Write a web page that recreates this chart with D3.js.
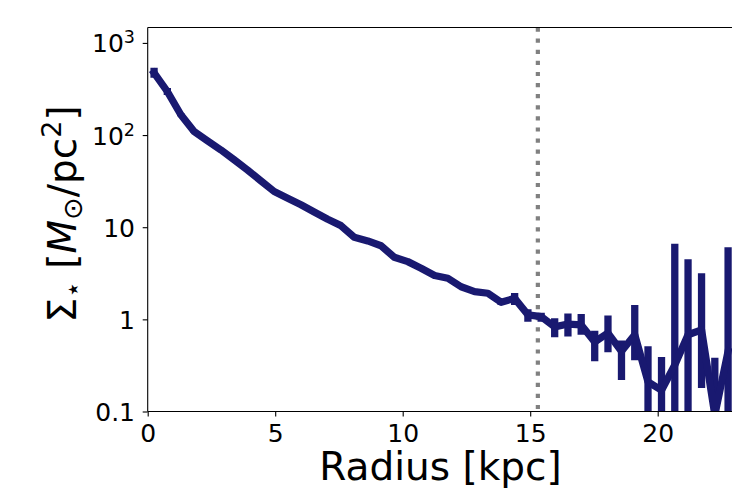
<!DOCTYPE html>
<html><head><meta charset="utf-8">
<script src="https://cdn.jsdelivr.net/npm/d3@7"></script>
<style>
body{margin:0;background:#fff}
svg{display:block}
text{font-family:"DejaVu Sans",sans-serif;fill:#000}
</style>
</head><body>
<svg id="c" width="732" height="491"></svg>
<script>
// ---- data ----
const radius = [0.25, 0.77, 1.30, 1.82, 2.34, 2.87, 3.39, 3.92, 4.44, 4.96,
                5.49, 6.01, 6.53, 7.06, 7.58, 8.10, 8.63, 9.15, 9.67, 10.20,
                10.72, 11.25, 11.77, 12.29, 12.82, 13.34, 13.86, 14.39, 14.91, 15.43,
                15.96, 16.48, 17.00, 17.53, 18.05, 18.58, 19.10, 19.62, 20.15, 20.67,
                21.19, 21.72, 22.24, 22.76];
const sigma = [473, 297, 166, 109, 86.5, 69, 53.9, 41.7, 31.8, 24.4,
               20.6, 17.5, 14.6, 12.2, 10.4, 7.79, 7.1, 6.3, 4.72, 4.23,
               3.59, 2.99, 2.79, 2.26, 2.0, 1.92, 1.53, 1.69, 1.12, 1.07,
               0.83, 0.89, 0.87, 0.57, 0.71, 0.45, 0.68, 0.21, 0.17, 0.32,
               0.68, 0.77, 0.092, 0.45];
const errLow = [55, 25, 6, 3, 2.5, 2, 1.6, 1.2, 0.9, 0.7,
                0.6, 0.5, 0.4, 0.35, 0.3, 0.23, 0.2, 0.18, 0.14, 0.12,
                0.1, 0.09, 0.08, 0.07, 0.06, 0.06, 0.1, 0.26, 0.18, 0.13,
                0.19, 0.24, 0.19, 0.22, 0.27, 0.23, 0.32, 0.21, 0.17, 0.32,
                0.68, 0.59, 0.092, 0.45];
const errHigh = [64, 28, 6, 3, 2.5, 2, 1.6, 1.2, 0.9, 0.7,
                 0.6, 0.5, 0.4, 0.35, 0.3, 0.23, 0.2, 0.18, 0.14, 0.12,
                 0.1, 0.09, 0.08, 0.07, 0.06, 0.06, 0.1, 0.24, 0.17, 0.11,
                 0.20, 0.27, 0.27, 0.18, 0.39, 0.14, 0.75, 0.30, 0.22, 6.3,
                 3.8, 2.4, 0.29, 5.6];
const cutRadius = [15.3];
const xTicks = [0, 5, 10, 15, 20];
const yTicks = [0.1, 1, 10, 100, 1000];
const yTickBase = ["0.1", "1", "10", "10", "10"];
const yTickExp = ["", "", "", "2", "3"];

// ---- layout ----
const L = 147.7, R = 734.2, T = 27.5, B = 411.5;
const color = "#191970";
const svg = d3.select("#c");
const x = d3.scaleLinear().domain([0, 23]).range([L, R]);
const y = d3.scaleLog().domain([0.1, 1470]).range([B, T]);

svg.append("defs").append("clipPath").attr("id", "clip")
  .append("rect").attr("x", L).attr("y", T).attr("width", R - L).attr("height", B - T);

const plot = svg.append("g").attr("clip-path", "url(#clip)");

// vertical dotted line
plot.selectAll("line.cut").data(cutRadius).join("line")
  .attr("class", "cut")
  .attr("x1", d => x(d)).attr("x2", d => x(d))
  .attr("y1", T).attr("y2", B)
  .attr("stroke", "#808080").attr("stroke-width", 4.2)
  .attr("stroke-dasharray", "4.2,6.9");

// error bars
const idx = d3.range(radius.length);
plot.selectAll("line.err").data(idx).join("line")
  .attr("class", "err")
  .attr("x1", i => x(radius[i])).attr("x2", i => x(radius[i]))
  .attr("y1", i => y(Math.max(sigma[i] - errLow[i], 1e-3)))
  .attr("y2", i => y(sigma[i] + errHigh[i]))
  .attr("stroke", color).attr("stroke-width", 7.3);

// profile line
plot.append("path")
  .datum(idx)
  .attr("d", d3.line().x(i => x(radius[i])).y(i => y(sigma[i])))
  .attr("fill", "none").attr("stroke", color)
  .attr("stroke-width", 7.3).attr("stroke-linejoin", "round")
  .attr("stroke-linecap", "square");

// axes
const xAxis = svg.append("g").attr("transform", `translate(0,${B})`)
  .call(d3.axisBottom(x).tickValues(xTicks).tickSize(5).tickFormat(d3.format("d")));
xAxis.select(".domain").remove();
xAxis.selectAll(".tick line").attr("stroke", "#000").attr("stroke-width", 1.1);
xAxis.selectAll(".tick text").attr("y", 30.2).attr("dy", null)
  .style("font-size", "25px").style("font-family", "DejaVu Sans");

const yAxis = svg.append("g").attr("transform", `translate(${L},0)`)
  .call(d3.axisLeft(y).tickValues(yTicks).tickSize(5).tickFormat(""));
yAxis.select(".domain").remove();
yAxis.selectAll(".tick line").attr("stroke", "#000").attr("stroke-width", 1.1);
yAxis.selectAll(".tick").each(function(d, k) {
  const t = d3.select(this).append("text")
    .attr("x", -12.7).attr("dy", "0.36em")
    .attr("text-anchor", "end")
    .style("font-size", "25px");
  t.append("tspan").text(yTickBase[k]);
  if (yTickExp[k]) {
    t.append("tspan").attr("dy", "-9").style("font-size", "17.5px").text(yTickExp[k]);
  }
});

// spines
svg.append("line").attr("x1", L).attr("x2", L).attr("y1", T).attr("y2", B)
  .attr("stroke", "#000").attr("stroke-width", 1.1);
svg.append("line").attr("x1", L).attr("x2", 732).attr("y1", B).attr("y2", B)
  .attr("stroke", "#000").attr("stroke-width", 1.1);
svg.append("line").attr("x1", L).attr("x2", 732).attr("y1", T).attr("y2", T)
  .attr("stroke", "#000").attr("stroke-width", 1.1);

// axis labels
svg.append("text").attr("x", 440.5).attr("y", 480)
  .attr("text-anchor", "middle").style("font-size", "39px")
  .text("Radius [kpc]");

const yl = svg.append("text")
  .attr("transform", "translate(76,214) rotate(-90)")
  .attr("text-anchor", "middle").style("font-size", "39px");
yl.append("tspan").text("Σ");
yl.append("tspan").attr("dy", "6").style("font-size", "27px").text("⋆");
yl.append("tspan").attr("dy", "-6").text(" [");
yl.append("tspan").style("font-style", "italic").text("M");
yl.append("tspan").attr("dy", "6").style("font-size", "27px").text("⊙");
yl.append("tspan").attr("dy", "-6").text("/pc");
yl.append("tspan").attr("dy", "-15").style("font-size", "27px").text("2");
yl.append("tspan").attr("dy", "15").text("]");
</script>
</body></html>
